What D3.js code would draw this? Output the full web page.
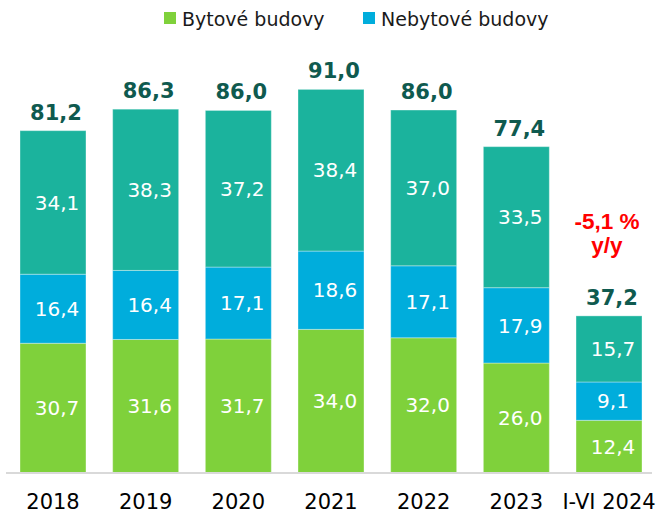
<!DOCTYPE html>
<html lang="sk">
<head>
<meta charset="UTF-8">
<title>Stavebná produkcia</title>
<style>
    body { margin: 0; background: #fff; }
    svg text { font-family: "DejaVu Sans", sans-serif; }
</style>
</head>
<body>
<svg id="chart" width="656" height="517"></svg>
<script src="https://d3js.org/d3.v7.min.js"></script>
<script>
    const years = ["2018", "2019", "2020", "2021", "2022", "2023", "I-VI 2024"];
    const bytove = [30.7, 31.6, 31.7, 34.0, 32.0, 26.0, 12.4];
    const nebytove = [16.4, 16.4, 17.1, 18.6, 17.1, 17.9, 9.1];
    const ostatne = [34.1, 38.3, 37.2, 38.4, 37.0, 33.5, 15.7];
    const totals = ["81,2", "86,3", "86,0", "91,0", "86,0", "77,4", "37,2"];
    const legendNames = ["Bytové budovy", "Nebytové budovy"];
    const note = ["-5,1 %", "y/y"];

    const colors = ["#7fd13b", "#00addc", "#1bb39d"];
    const fmt = v => d3.format(".1f")(v).replace(".", ",");

    const svg = d3.select("#chart");

    const x = d3.scaleBand()
        .domain(years)
        .range([20, 642])
        .paddingInner(0.288)
        .paddingOuter(0);

    const y = d3.scaleLinear()
        .domain([0, 100])
        .range([472.5, 51.5]);

    // build stacked table
    const table = years.map((yr, i) => ({year: yr, a: bytove[i], b: nebytove[i], c: ostatne[i]}));
    const series = d3.stack().keys(["a", "b", "c"])(table);

    const groups = svg.selectAll("g.layer")
        .data(series)
        .join("g")
        .attr("class", "layer")
        .attr("fill", (d, i) => colors[i]);

    groups.selectAll("rect")
        .data(d => d)
        .join("rect")
        .attr("x", d => x(d.data.year))
        .attr("y", d => y(d[1]))
        .attr("width", x.bandwidth())
        .attr("height", d => y(d[0]) - y(d[1]))
        .attr("stroke", "rgba(255,255,255,0.35)")
        .attr("stroke-width", 1);

    groups.selectAll("text")
        .data(d => d)
        .join("text")
        .attr("x", d => x(d.data.year) + x.bandwidth() / 2 + 4)
        .attr("y", d => (y(d[0]) + y(d[1])) / 2)
        .attr("dy", "0.36em")
        .attr("text-anchor", "middle")
        .attr("fill", "#fff")
        .style("font-size", "20px")
        .text(d => fmt(d[1] - d[0]));

    // totals
    svg.selectAll("text.total")
        .data(table)
        .join("text")
        .attr("class", "total")
        .attr("x", d => x(d.year) + x.bandwidth() / 2 + 3)
        .attr("y", d => y(d.a + d.b + d.c) - 11)
        .attr("text-anchor", "middle")
        .attr("fill", "#0f5a4f")
        .style("font-size", "21px")
        .style("font-weight", "bold")
        .text((d, i) => totals[i]);

    // y/y note above last bar
    const last = table[table.length - 1];
    const noteX = x(last.year) + x.bandwidth() / 2 - 2;
    svg.append("text")
        .attr("x", noteX)
        .attr("y", y(last.a + last.b + last.c) - 87)
        .attr("text-anchor", "middle")
        .attr("fill", "#ff0000")
        .style("font-family", "'Liberation Sans', Arial, sans-serif")
        .style("font-size", "22.5px")
        .style("font-weight", "bold")
        .selectAll("tspan")
        .data(note)
        .join("tspan")
        .attr("x", noteX)
        .attr("dy", (d, i) => i === 0 ? 0 : 24)
        .text(d => d);

    // x axis
    const axis = svg.append("g")
        .attr("transform", `translate(0, ${y(0)})`)
        .call(d3.axisBottom(x).tickSize(0).tickPadding(22));
    axis.select(".domain").remove();
    axis.selectAll("text")
        .attr("fill", "#000")
        .style("font-family", "'DejaVu Sans', sans-serif")
        .style("font-size", "21px");

    svg.append("line")
        .attr("x1", x.range()[0] - 14)
        .attr("x2", x.range()[1] + 10)
        .attr("y1", y(0) + 0.5)
        .attr("y2", y(0) + 0.5)
        .attr("stroke", "#d9d9d9")
        .attr("stroke-width", 2);

    // legend
    const legendX = [164, 363];
    const legend = svg.selectAll("g.legend")
        .data(legendNames)
        .join("g")
        .attr("class", "legend")
        .attr("transform", (d, i) => `translate(${legendX[i]}, 12)`);
    legend.append("rect")
        .attr("width", 12)
        .attr("height", 12)
        .attr("fill", (d, i) => colors[i]);
    legend.append("text")
        .attr("x", 18)
        .attr("y", 14)
        .attr("fill", "#1a1a1a")
        .style("font-size", "19px")
        .text(d => d);
</script>
</body>
</html>
